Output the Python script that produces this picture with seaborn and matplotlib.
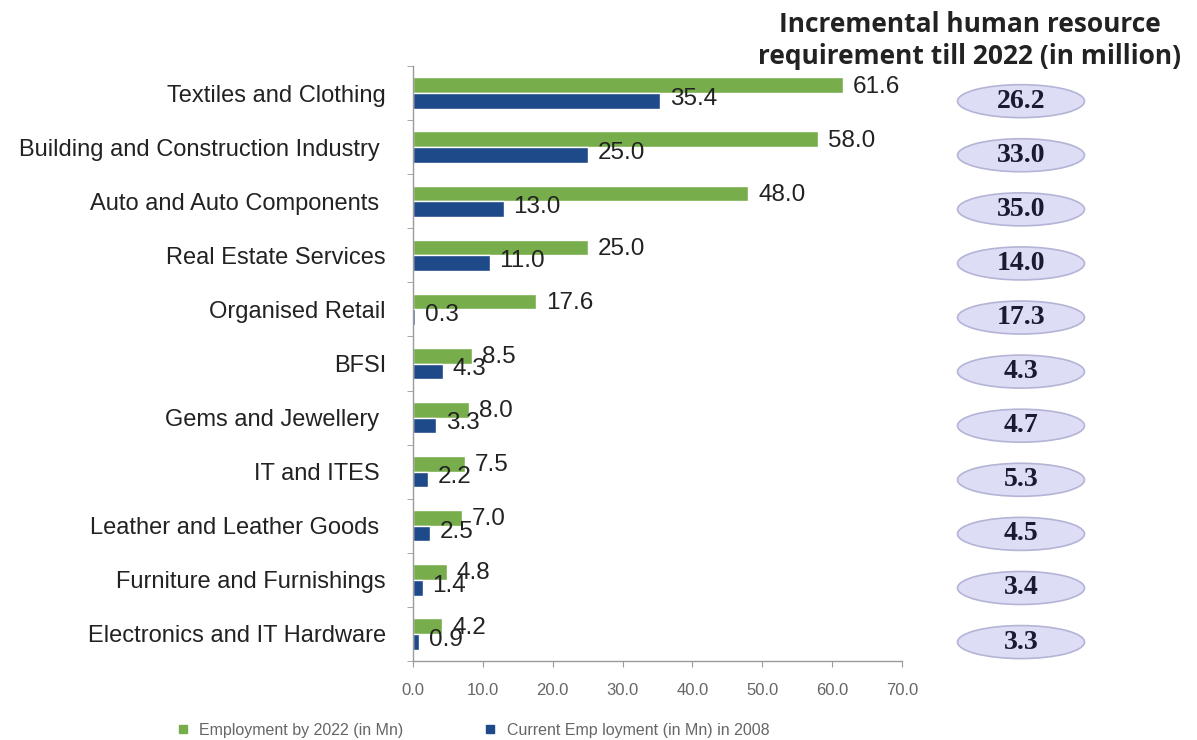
import matplotlib
matplotlib.use("Agg")
import matplotlib.pyplot as plt
from matplotlib.patches import Ellipse
from matplotlib.ticker import FixedLocator
import pandas as pd
import seaborn as sns

sectors = [
    "Textiles and Clothing",
    "Building and Construction Industry ",
    "Auto and Auto Components ",
    "Real Estate Services",
    "Organised Retail",
    "BFSI",
    "Gems and Jewellery ",
    "IT and ITES ",
    "Leather and Leather Goods ",
    "Furniture and Furnishings",
    "Electronics and IT Hardware",
]
emp_2022 = [61.6, 58.0, 48.0, 25.0, 17.6, 8.5, 8.0, 7.5, 7.0, 4.8, 4.2]
emp_2008 = [35.4, 25.0, 13.0, 11.0, 0.3, 4.3, 3.3, 2.2, 2.5, 1.4, 0.9]
incremental = [26.2, 33.0, 35.0, 14.0, 17.3, 4.3, 4.7, 5.3, 4.5, 3.4, 3.3]
series_names = ["Employment by 2022 (in Mn)", "Current Emp loyment (in Mn) in 2008"]
x_ticks = [0, 10, 20, 30, 40, 50, 60, 70]

green = "#78AD4C"
blue = "#1F4A8A"

df = pd.DataFrame({
    "sector": sectors * 2,
    "value": emp_2022 + emp_2008,
    "series": [series_names[0]] * len(sectors) + [series_names[1]] * len(sectors),
})

sns.set_style("white")
plt.rcParams["font.family"] = ["Liberation Sans", "DejaVu Sans"]

fig = plt.figure(figsize=(11.97, 7.40), dpi=100)
ax = fig.add_axes([413 / 1197, 1 - 661 / 740, 489 / 1197, 595 / 740])

sns.barplot(data=df, y="sector", x="value", hue="series", order=sectors,
            hue_order=series_names, palette=[green, blue], width=0.58,
            orient="h", ax=ax, legend=False, saturation=1)

# value labels next to bar ends
for i, c in enumerate(ax.containers):
    vals = emp_2022 if i == 0 else emp_2008
    dy = -1 if i == 0 else 1.5
    for bar, v in zip(c, vals):
        ax.annotate(f"{v:.1f}", (bar.get_width(), bar.get_y() + bar.get_height() / 2),
                    xytext=(7, dy), textcoords="offset points", ha="left", va="center",
                    fontsize=17.5, color="#222222")

ax.set_xlim(0, 70)
ax.set_ylim(len(sectors) - 0.5, -0.5)
ax.xaxis.set_major_locator(FixedLocator(x_ticks))
ax.set_xticklabels([f"{t:.1f}" for t in x_ticks])
ax.yaxis.set_minor_locator(FixedLocator([i - 0.5 for i in range(len(sectors) + 1)]))
ax.set_xlabel("")
ax.set_ylabel("")
for s in ["top", "right"]:
    ax.spines[s].set_visible(False)
for s in ["left", "bottom"]:
    ax.spines[s].set_color("#9a9a9a")
    ax.spines[s].set_linewidth(1.0)
ax.tick_params(axis="x", bottom=True, length=4, color="#9a9a9a", labelsize=12,
               labelcolor="#666666", pad=12)
ax.tick_params(axis="y", which="major", left=False, labelsize=17, labelcolor="#222222", pad=16)
ax.tick_params(axis="y", which="minor", left=True, length=4, color="#9a9a9a")

# incremental requirement ovals
ax2 = fig.add_axes([950 / 1197, 1 - 661 / 740, 142 / 1197, 595 / 740], sharey=ax)
ax2.set_xlim(0, 1)
ax2.axis("off")
for i, v in enumerate(incremental):
    yc = i + 0.15
    ax2.add_patch(Ellipse((0.5, yc), 0.894, 0.61, facecolor="#DDDDF6",
                          edgecolor="#B4B4D6", linewidth=1.2))
    ax2.text(0.5, yc, f"{v:.1f}", ha="center", va="center", fontsize=20,
             fontweight="bold", color="#1a1a33", family=["Liberation Serif", "DejaVu Serif"])

fig.text(970 / 1197, 1 - 24 / 740, "Incremental human resource", ha="center", va="center",
         fontsize=19, fontweight="bold", color="#222222", family=["Open Sans", "DejaVu Sans"])
fig.text(970 / 1197, 1 - 56 / 740, "requirement till 2022 (in million)", ha="center", va="center",
         fontsize=19, fontweight="bold", color="#222222", family=["Open Sans", "DejaVu Sans"])

handles = [plt.Line2D([], [], marker="s", linestyle="", markersize=6, color=green),
           plt.Line2D([], [], marker="s", linestyle="", markersize=6, color=blue)]
fig.legend(handles, series_names, loc="center", bbox_to_anchor=(468 / 1197, 1 - 730 / 740),
           ncol=2, frameon=False, fontsize=11.5, handletextpad=0.05, columnspacing=4.4,
           labelcolor="#666666")

fig.savefig("out.png", dpi=100)
